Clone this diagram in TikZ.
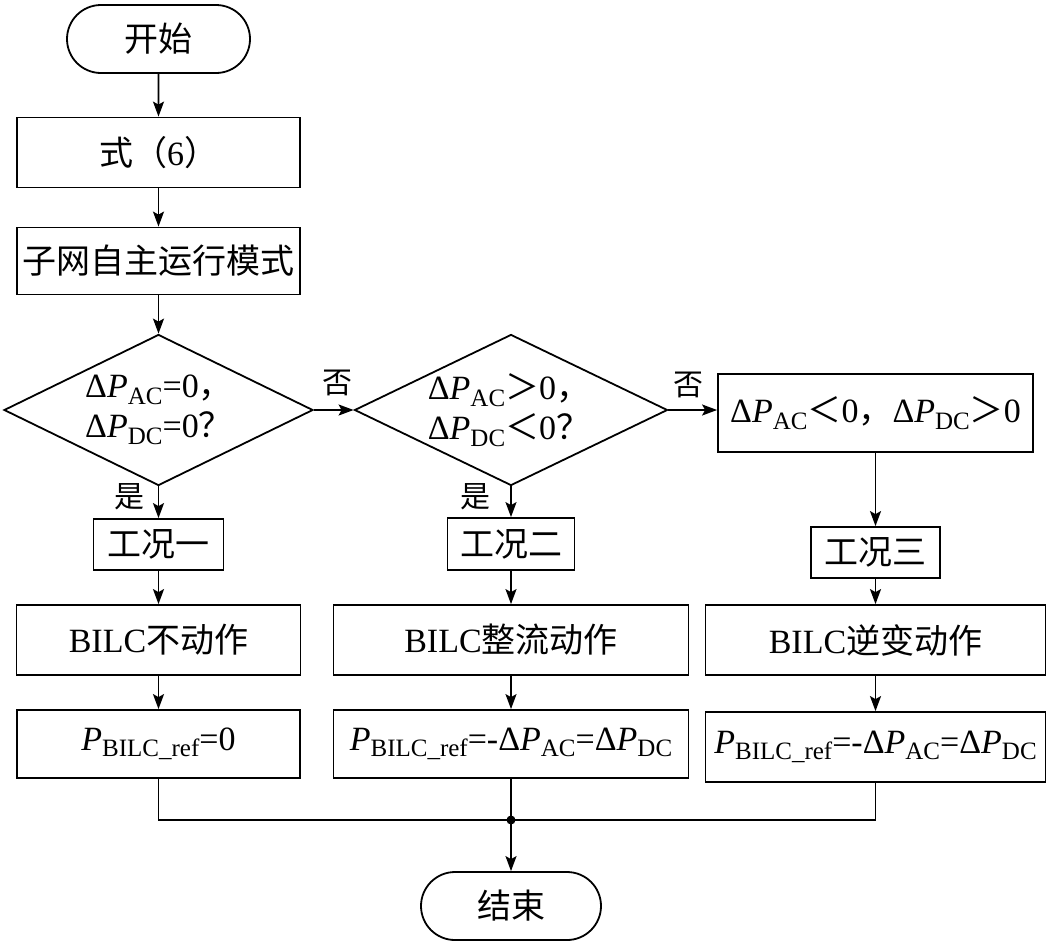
\documentclass[tikz,border=0pt]{standalone}
\usepackage{fontspec}
\setmainfont{Liberation Serif}
\newfontfamily\cjk{Noto Sans CJK SC}
\usetikzlibrary{shapes.misc,shapes.geometric,arrows.meta}
\newcommand\lo[1]{\raisebox{-0.42ex}{\fontsize{25}{25}\selectfont #1}}
\newcommand\Dp[1]{Δ\textit{P}\lo{#1}}
\begin{document}
\begin{tikzpicture}[x=1pt,y=-1pt,
  every node/.style={font=\fontsize{34}{40}\selectfont, inner sep=0pt},
  box/.style={draw, line width=1.8pt, rectangle},
  term/.style={draw, line width=1.8pt, rounded rectangle},
  dia/.style={draw, line width=1.8pt, diamond, minimum width=#1, minimum height=151},
  lbl/.style={font=\fontsize{30}{30}\selectfont\cjk},
  arr/.style={line width=1.8pt, -{Stealth[length=15pt,width=11pt,inset=3pt]}},
  ln/.style={line width=1.8pt}]
\useasboundingbox (0,0) rectangle (1049,948);
\node[term, minimum width=183, minimum height=68] (start) at (158.5,39) {\cjk 开始};
\node[box, minimum width=283, minimum height=70] (eq) at (158.5,152.5) {\cjk 式（\textrm{6}）};
\node[box, minimum width=283, minimum height=67] (mode) at (158.5,261) {\cjk 子网自主运行模式};
\node[dia=309] (d1) at (158.5,410) {};
\node[align=left] (d1t) at (159,410) {\Dp{AC}=0{\cjk ，}\\\Dp{DC}=0{\cjk ？}};
\node[dia=313] (d2) at (511,410) {};
\node[align=left] (d2t) at (509,410) {\Dp{AC}{\cjk ＞}0{\cjk ，}\\\Dp{DC}{\cjk ＜}0{\cjk ？}};
\node[box, minimum width=315, minimum height=78] (c3) at (875.5,413) {\Dp{AC}{\cjk ＜}0{\cjk ，}\Dp{DC}{\cjk ＞}0};
\node[box, minimum width=130, minimum height=51] (g1) at (158.5,544.5) {\cjk 工况一};
\node[box, minimum width=127, minimum height=52] (g2) at (511,544) {\cjk 工况二};
\node[box, minimum width=129, minimum height=51] (g3) at (875.5,552.5) {\cjk 工况三};
\node[box, minimum width=284, minimum height=70] (b1) at (158.5,640) {BILC{\cjk 不动作}};
\node[box, minimum width=355, minimum height=70] (b2) at (511,640) {BILC{\cjk 整流动作}};
\node[box, minimum width=340, minimum height=70] (b3) at (875.5,640) {BILC{\cjk 逆变动作}};
\node[box, minimum width=283, minimum height=68] (p1) at (158.5,744) {\textit{P}\lo{BILC\_ref}=0};
\node[box, minimum width=355, minimum height=68] (p2) at (511,744) {\textit{P}\lo{BILC\_ref}=-\Dp{AC}=\Dp{DC}};
\node[box, minimum width=340, minimum height=70] (p3) at (875.5,747) {\textit{P}\lo{BILC\_ref}=-\Dp{AC}=\Dp{DC}};
\node[term, minimum width=180, minimum height=68] (end) at (511,906) {\cjk 结束};
\coordinate (j) at (511,820);
\node[lbl] (n1) at (337,383) {否};
\node[lbl] (n2) at (688,385) {否};
\node[lbl] (y1) at (129,497) {是};
\node[lbl] (y2) at (475,497) {是};
\draw[arr] (start) -- (eq);
\draw[arr] (eq) -- (mode);
\draw[arr] (mode.south) -- (d1.north);
\draw[arr] (d1.east) -- (d2.west);
\draw[arr] (d2.east) -- (d2.east-|c3.west);
\draw[arr] (d1.south) -- (g1.north);
\draw[arr] (d2.south) -- (g2.north);
\draw[arr] (c3.south) -- (g3.north);
\draw[arr] (g1) -- (b1);
\draw[arr] (g2) -- (b2);
\draw[arr] (g3) -- (b3);
\draw[arr] (b1) -- (p1);
\draw[arr] (b2) -- (p2);
\draw[arr] (b3) -- (p3);
\draw[ln] (p1.south) |- (j) -| (p3.south);
\draw[ln] (p2.south) -- (j);
\fill (j) circle (4.5);
\draw[arr] (j) -- (end);
\end{tikzpicture}
\end{document}
